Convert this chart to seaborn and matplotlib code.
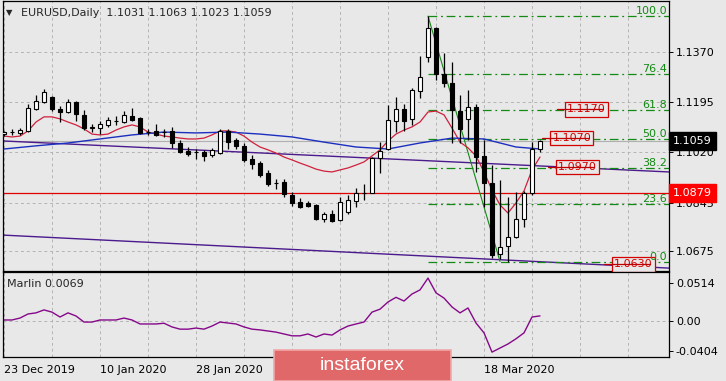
import numpy as np
import pandas as pd
import matplotlib
matplotlib.use('Agg')
import matplotlib.pyplot as plt
import matplotlib.transforms as mtransforms
from matplotlib.patches import Rectangle
import seaborn as sns

sns.set_theme(style='white')
plt.rcParams['font.family'] = ['DejaVu Sans']

# ==================== data ====================
opens = [1.1084, 1.1091, 1.1088, 1.1095, 1.1171, 1.1196, 1.1213, 1.1171, 1.1161, 1.1196,
         1.1150, 1.1105, 1.1105, 1.1116, 1.1128, 1.1126, 1.1147, 1.1140, 1.1092, 1.1095,
         1.1091, 1.1095, 1.1053, 1.1025, 1.1021, 1.1022, 1.1011, 1.1018, 1.1095, 1.1063,
         1.1042, 1.0997, 1.0983, 1.0948, 1.0914, 1.0917, 1.0872, 1.0847, 1.0844, 1.0837,
         1.0788, 1.0806, 1.0785, 1.0812, 1.0851, 1.0879, 1.0879, 1.1001, 1.1032, 1.1130,
         1.1171, 1.1137, 1.1234, 1.1353, 1.1454, 1.1293, 1.1262, 1.1164, 1.1137, 1.1178,
         1.1008, 1.0914, 1.0666, 1.0694, 1.0725, 1.0788, 1.0879, 1.1031]
highs = [1.1095, 1.1102, 1.1105, 1.1189, 1.1220, 1.1241, 1.1217, 1.1182, 1.1206, 1.1199,
         1.1168, 1.1119, 1.1130, 1.1144, 1.1147, 1.1164, 1.1175, 1.1144, 1.1102, 1.1119,
         1.1102, 1.1109, 1.1063, 1.1039, 1.1032, 1.1029, 1.1036, 1.1102, 1.1102, 1.1070,
         1.1053, 1.1011, 1.0990, 1.0959, 1.0928, 1.0928, 1.0882, 1.0861, 1.0851, 1.0840,
         1.0813, 1.0820, 1.0865, 1.0872, 1.0896, 1.0910, 1.1004, 1.1056, 1.1185, 1.1213,
         1.1189, 1.1245, 1.1356, 1.1495, 1.1456, 1.1367, 1.1335, 1.1220, 1.1238, 1.1189,
         1.1063, 1.0976, 1.0924, 1.0865, 1.0882, 1.0886, 1.1056, 1.1063]
lows = [1.1077, 1.1081, 1.1081, 1.1091, 1.1168, 1.1192, 1.1164, 1.1126, 1.1157, 1.1130,
        1.1098, 1.1091, 1.1084, 1.1109, 1.1116, 1.1123, 1.1130, 1.1085, 1.1081, 1.1077,
        1.1074, 1.1036, 1.1018, 1.1008, 1.0997, 1.0990, 1.1004, 1.1015, 1.1032, 1.1032,
        1.0987, 1.0962, 1.0934, 1.0903, 1.0893, 1.0865, 1.0833, 1.0826, 1.0830, 1.0785,
        1.0778, 1.0778, 1.0781, 1.0806, 1.0830, 1.0854, 1.0877, 1.0948, 1.1029, 1.1091,
        1.1095, 1.1116, 1.1210, 1.1335, 1.1272, 1.1248, 1.1053, 1.1053, 1.1063, 1.0952,
        1.0830, 1.0652, 1.0649, 1.0638, 1.0722, 1.0760, 1.0872, 1.1023]
closes = [1.1091, 1.1092, 1.1098, 1.1175, 1.1199, 1.1231, 1.1171, 1.1161, 1.1196, 1.1154,
          1.1105, 1.1107, 1.1119, 1.1133, 1.1130, 1.1150, 1.1133, 1.1088, 1.1090, 1.1081,
          1.1090, 1.1053, 1.1022, 1.1015, 1.1020, 1.1008, 1.1029, 1.1095, 1.1056, 1.1042,
          1.0994, 1.0980, 1.0941, 1.0910, 1.0913, 1.0875, 1.0844, 1.0830, 1.0833, 1.0788,
          1.0806, 1.0781, 1.0847, 1.0854, 1.0879, 1.0880, 1.1001, 1.1025, 1.1133, 1.1171,
          1.1130, 1.1238, 1.1283, 1.1454, 1.1293, 1.1262, 1.1168, 1.1102, 1.1178, 1.1004,
          1.0914, 1.0663, 1.0691, 1.0725, 1.0788, 1.0879, 1.1032, 1.1059]

# красная (быстрая) средняя
ma_fast = [1.1077, 1.1074, 1.1077, 1.1095, 1.1126, 1.1144, 1.1144, 1.1137, 1.1126, 1.1116,
           1.1102, 1.1084, 1.1081, 1.1084, 1.1098, 1.1109, 1.1116, 1.1109, 1.1091, 1.1084,
           1.1077, 1.1074, 1.1070, 1.1067, 1.1067, 1.1070, 1.1081, 1.1095, 1.1095, 1.1091,
           1.1077, 1.1056, 1.1039, 1.1029, 1.1018, 1.1004, 1.0994, 1.0983, 1.0973, 1.0962,
           1.0955, 1.0952, 1.0959, 1.0966, 1.0976, 1.0987, 1.1008, 1.1029, 1.1060, 1.1084,
           1.1098, 1.1109, 1.1126, 1.1161, 1.1164, 1.1151, 1.1105, 1.1056, 1.1036, 1.1008,
           1.0952, 1.0889, 1.0837, 1.0809, 1.0844, 1.0886, 1.0959, 1.1004]
# синяя (медленная) средняя
ma_slow_idx = [0, 4, 8, 12, 16, 20, 24, 28, 32, 36, 40, 44, 48, 52, 56, 60, 64, 67]
ma_slow = [1.1032, 1.1043, 1.1053, 1.1067, 1.1081, 1.1091, 1.1088, 1.1091, 1.1084, 1.1074,
           1.1056, 1.1039, 1.1032, 1.1053, 1.1070, 1.1067, 1.1039, 1.1032]

marlin = [0.0014, 0.0014, 0.0040, 0.0095, 0.0110, 0.0150, 0.0120, 0.0054, 0.0110, 0.0068,
          -0.0014, -0.0014, 0.0014, 0.0014, 0.0014, 0.0040, 0.0014, -0.0040, -0.0040, -0.0040,
          -0.0030, -0.0080, -0.0110, -0.0110, -0.0095, -0.0110, -0.0068, -0.0014, -0.0027, -0.0040,
          -0.0080, -0.0110, -0.0120, -0.0135, -0.0150, -0.0175, -0.0200, -0.0200, -0.0175, -0.0216,
          -0.0175, -0.0190, -0.0120, -0.0068, -0.0040, -0.0014, 0.0120, 0.0160, 0.0257, 0.0320,
          0.0270, 0.0365, 0.0420, 0.0580, 0.0380, 0.0310, 0.0190, 0.0110, 0.0176, -0.0027,
          -0.0160, -0.0420, -0.0365, -0.0310, -0.0240, -0.0160, 0.0054, 0.0069]

# подписи дат (две под водяным знаком не видны)
date_ticks = [0, 12, 24, 36, 48, 60]
date_labels = ['23 Dec 2019', '10 Jan 2020', '28 Jan 2020', '', '', '18 Mar 2020']
price_ticks = [1.1370, 1.1195, 1.1020, 1.0845, 1.0675]
marlin_ticks = [0.0514, 0.0, -0.0404]
marlin_tick_labels = ['0.0514', '0.00', '-0.0404']

fib_hi, fib_lo = 1.1495, 1.0640
fib_start, fib_end = 53, 62
fib_pcts = [100.0, 76.4, 61.8, 50.0, 38.2, 23.6, 0.0]

trend_upper = [1.1060, 1.0952]
trend_lower = [1.0732, 1.0617]
level_line = 1.0879
bid = 1.1059
price_marks = [1.1170, 1.1070, 1.0970, 1.0630]
price_mark_bar = [69.1, 67.3, 68.0, 75.0]

# ==================== оформление ====================
W, H = 726, 381
bg = '#e8e8e8'
grid_c = '#b4b4b4'
green = '#138a13'
xmin, xmax = -0.125, 83.125

fig = plt.figure(figsize=(W / 100, H / 100), dpi=100)
fig.patch.set_facecolor(bg)
ax = fig.add_axes([3 / W, 1 - 271 / H, 666 / W, 270 / H])
axm = fig.add_axes([3 / W, 1 - 357 / H, 666 / W, 85 / H])

for a in (ax, axm):
    a.set_facecolor(bg)
    for s in a.spines.values():
        s.set_color('black')
        s.set_linewidth(0.9)
    a.set_xlim(xmin, xmax)
    a.yaxis.tick_right()
    a.tick_params(axis='y', length=3, width=0.7, pad=2, labelsize=8, colors='black')
    for gx in range(0, 84, 6):
        a.axvline(gx, color=grid_c, lw=0.7, ls=(0, (3, 3)), zorder=0)

# ---------- основной график ----------
ax.set_ylim(1.06069, 1.15477)
ax.set_yticks(price_ticks)
ax.set_yticklabels([f'{v:.4f}' for v in price_ticks])
ax.set_xticks([])
for gy in price_ticks:
    ax.axhline(gy, color=grid_c, lw=0.7, ls=(0, (3, 3)), zorder=0)

ax.axhline(bid, color='#b0b0b0', lw=0.8, zorder=1)
ax.axhline(level_line, color='#e00000', lw=0.9, zorder=1)

ax.plot([xmin, xmax], trend_upper, color='#4b1a8c', lw=1.0, zorder=2)
ax.plot([xmin, xmax], trend_lower, color='#4b1a8c', lw=1.0, zorder=2)

# уровни Фибоначчи
for pct in fib_pcts:
    lvl = fib_lo + (fib_hi - fib_lo) * pct / 100
    ax.hlines(lvl, fib_start, xmax, color=green, lw=0.9, ls=(0, (7, 3, 1.5, 3)), zorder=2)
    ax.text(82.9, lvl, f'{pct:.1f}', color=green, fontsize=8, ha='right', va='bottom', zorder=7)
ax.plot([fib_start, fib_end], [fib_hi, fib_lo], color=green, lw=0.8, zorder=3)

df_fast = pd.DataFrame({'bar': np.arange(len(ma_fast)), 'ma': ma_fast})
sns.lineplot(data=df_fast, x='bar', y='ma', ax=ax, color='#d0203c', lw=0.9, zorder=3)
df_slow = pd.DataFrame({'bar': ma_slow_idx, 'ma': ma_slow})
sns.lineplot(data=df_slow, x='bar', y='ma', ax=ax, color='#1c2fc0', lw=1.0, zorder=3)

# свечи
idx = np.arange(len(opens))
o = np.array(opens)
c = np.array(closes)
up = c >= o
ax.vlines(idx, lows, highs, color='black', lw=0.9, zorder=4)
ax.bar(idx, np.abs(c - o), bottom=np.minimum(o, c), width=0.6,
       color=np.where(up, 'white', 'black'), edgecolor='black', linewidth=0.8, zorder=5)

# ценовые метки
for p, b in zip(price_marks, price_mark_bar):
    ax.text(b + 1.25, p, f'{p:.4f}', color='#d40000', fontsize=8, ha='left', va='center', zorder=5,
            bbox=dict(boxstyle='square,pad=0.2', fc=bg, ec='#d40000', lw=0.9))
    ax.plot([b, b + 5.8], [p, p], color='#c00000', lw=0.9, zorder=6)

ax.set_xlabel('')
ax.set_ylabel('')

off = mtransforms.offset_copy(ax.get_yaxis_transform(), fig=fig, x=4, y=0, units='dots')
ax.text(1.0, bid, f'{bid:.4f}', transform=off, color='white', fontsize=8, ha='left', va='center',
        clip_on=False, zorder=10, bbox=dict(boxstyle='square,pad=0.35', fc='black', ec='black'))
ax.text(1.0, level_line, f'{level_line:.4f}', transform=off, color='white', fontsize=8, ha='left',
        va='center', clip_on=False, zorder=10,
        bbox=dict(boxstyle='square,pad=0.35', fc='#ff0000', ec='#ff0000'))

# ---------- индикатор Marlin ----------
axm.set_ylim(-0.0486, 0.0662)
axm.set_yticks(marlin_ticks)
axm.set_yticklabels(marlin_tick_labels)
axm.axhline(0, color=grid_c, lw=0.7, ls=(0, (3, 3)), zorder=0)
df_m = pd.DataFrame({'bar': np.arange(len(marlin)), 'marlin': marlin})
sns.lineplot(data=df_m, x='bar', y='marlin', ax=axm, color='#86088a', lw=1.0)
axm.set_xticks(date_ticks)
axm.set_xticklabels(date_labels, ha='left')
axm.tick_params(axis='x', length=3, width=0.7, pad=3, labelsize=8, colors='black')
axm.set_xlabel('')
axm.set_ylabel('')
axm.text(0.006, 0.86, f'Marlin {marlin[-1]:.4f}', transform=axm.transAxes, fontsize=8,
         ha='left', va='center')

# ---------- заголовок ----------
fig.text(6 / W, 1 - 13 / H, '\u25bc', fontsize=6, va='center', ha='left')
fig.text(21 / W, 1 - 13 / H, 'EURUSD,Daily  1.1031 1.1063 1.1023 1.1059', fontsize=8,
         va='center', ha='left')

# ---------- водяной знак ----------
fig.add_artist(Rectangle((274 / W, 0), 177 / W, 31 / H, transform=fig.transFigure,
                         fc='#e06868', ec='#f0a8a8', lw=1.2, zorder=20))
fig.text(362 / W, 1 - 366 / H, 'instaforex', color='white', fontsize=14, ha='center', va='center',
         family=['Liberation Sans', 'DejaVu Sans'], zorder=21)

plt.savefig('out.png', dpi=100, facecolor=bg)
